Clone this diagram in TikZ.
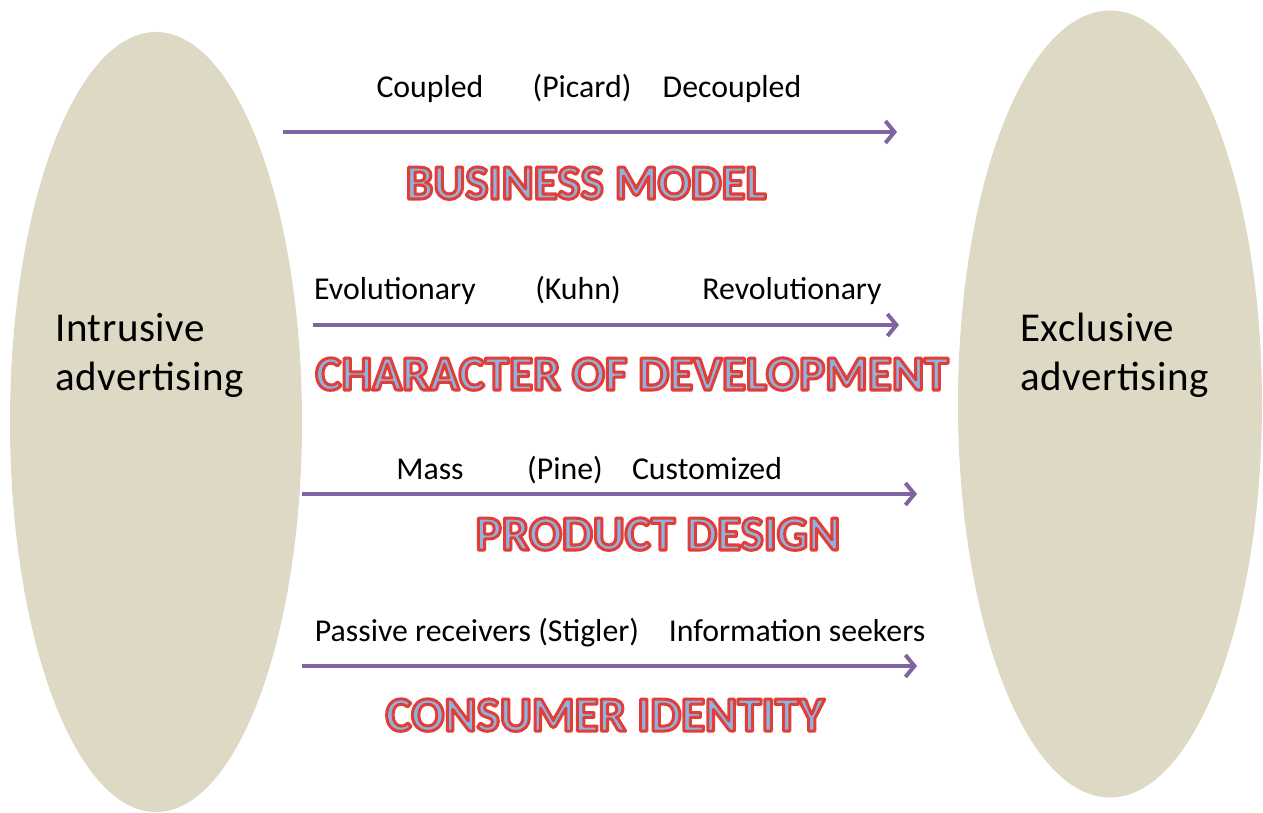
\documentclass[tikz,border=0pt]{standalone}
\usepackage{fontspec}
\setmainfont{Carlito}
\usetikzlibrary{shapes.geometric,arrows.meta}
\definecolor{sand}{RGB}{221,217,196}
\definecolor{axis}{RGB}{128,100,162}
\definecolor{titlered}{RGB}{226,62,56}
\definecolor{titleblue}{RGB}{141,179,226}
\newcommand{\headline}[1]{\textcolor{titleblue}{\special{pdf:literal direct 0.886 0.243 0.22 RG 2 Tr 3 w 1 j}#1\special{pdf:literal direct 0 Tr}}}

\begin{document}
\begin{tikzpicture}[x=1pt,y=-1pt,
	pole/.style={ellipse, fill=sand, inner sep=0pt},
	poletext/.style={anchor=west, align=left, inner sep=0pt, font=\fontsize{41}{49}\selectfont\addfontfeature{LetterSpace=1.5}},
	axisline/.style={draw=axis, line width=4pt, -{Straight Barb[length=9pt,width=22pt,line width=4pt]}},
	endtext/.style={anchor=base, inner sep=0pt, font=\fontsize{31.8}{36}\selectfont},
	dimension/.style={anchor=base, inner sep=0pt, font=\fontsize{49}{54}\selectfont\bfseries}]
	\useasboundingbox (0,0) rectangle (1263,813);
	\node (intrusive) [pole, minimum width=292pt, minimum height=780pt] at (156,422) {};
	\node (exclusive) [pole, minimum width=304pt, minimum height=787pt] at (1110,404) {};
	\node (intrusive-text) [poletext] at (55,355) {Intrusive\\advertising};
	\node (exclusive-text) [poletext] at (1020,355) {Exclusive\\advertising};

	\coordinate (business-from) at (283,132);
	\coordinate (business-to) at (897,132);
	\draw [axisline] (business-from) -- (business-to);
	\node (coupled) [endtext] at (430,98) {Coupled};
	\node (picard) [endtext] at (582,98) {(Picard)};
	\node (decoupled) [endtext] at (732,98) {Decoupled};
	\node (business) [dimension] at (586,199) {\headline{BUSINESS MODEL}};

	\coordinate (character-from) at (313,325);
	\coordinate (character-to) at (899,325);
	\draw [axisline] (character-from) -- (character-to);
	\node (evolutionary) [endtext] at (395,299) {Evolutionary};
	\node (kuhn) [endtext] at (578,299) {(Kuhn)};
	\node (revolutionary) [endtext] at (792,299) {Revolutionary};
	\node (character) [dimension] at (632,390) {\headline{CHARACTER OF DEVELOPMENT}};

	\coordinate (product-from) at (302,494);
	\coordinate (product-to) at (917,494);
	\draw [axisline] (product-from) -- (product-to);
	\node (mass) [endtext] at (430,479) {Mass};
	\node (pine) [endtext] at (565,479) {(Pine)};
	\node (customized) [endtext] at (707,479) {Customized};
	\node (product) [dimension] at (658,550) {\headline{PRODUCT DESIGN}};

	\coordinate (consumer-from) at (302,666);
	\coordinate (consumer-to) at (917,666);
	\draw [axisline] (consumer-from) -- (consumer-to);
	\node (passive) [endtext] at (477,641) {Passive receivers (Stigler)};
	\node (seekers) [endtext] at (797,641) {Information seekers};
	\node (consumer) [dimension] at (605,731) {\headline{CONSUMER IDENTITY}};
\end{tikzpicture}
\end{document}
